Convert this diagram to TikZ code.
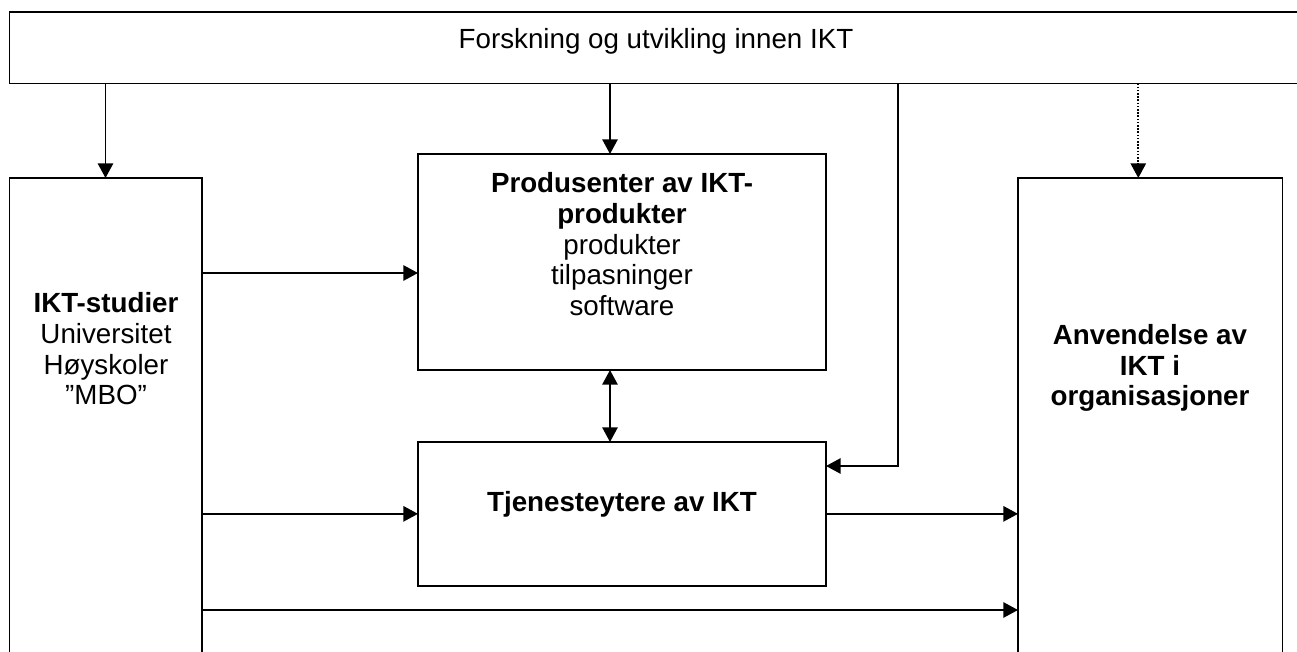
\documentclass[tikz,border=0pt]{standalone}
\usepackage{fontspec}
\setmainfont{Liberation Sans}
\usetikzlibrary{arrows.meta,fit}
\begin{document}
\begin{tikzpicture}[x=0.75pt,y=-0.75pt,
  box/.style={draw,line width=1.4pt,inner sep=0pt,outer sep=0pt},
  txt/.style={font=\fontsize{20.8}{23}\selectfont,align=center,inner sep=0pt},
  arr/.style={line width=1.4pt,-{Triangle[length=11pt,width=11.5pt]}},
  darr/.style={line width=1.4pt,{Triangle[length=11pt,width=11.5pt]}-{Triangle[length=11pt,width=11.5pt]}},
  dotarr/.style={arr,dash pattern=on 1.2pt off 1.2pt}]
\useasboundingbox (0,0) rectangle (1297,652);
\clip (0,0) rectangle (1297,652);
\node[box, fit={(9.5,12.3) (1330,83.5)}] (top) {};
\node[txt, anchor=base] (toptxt) at (656,48.5) {Forskning og utvikling innen IKT};
\node[box, fit={(9.5,178) (202,720)}] (lbox) {};
\node[box, fit={(1018,178) (1282.5,720)}] (rbox) {};
\node[box, fit={(418,154) (826,370)}] (prod) {};
\node[box, fit={(418,442) (826,585.7)}] (tjen) {};
\node[txt, anchor=north] (prodtxt) at (622,172.5) {\textbf{Produsenter av IKT-}\\\textbf{produkter}\\produkter\\tilpasninger\\software};
\node[txt, anchor=base] (tjentxt) at (622,511.7) {\textbf{Tjenesteytere av IKT}};
\node[txt, anchor=north] (ltxt) at (106,292.5) {\textbf{IKT-studier}\\Universitet\\Høyskoler\\”MBO”};
\node[txt, anchor=north] (rtxt) at (1150,324) {\textbf{Anvendelse av}\\\textbf{IKT i}\\\textbf{organisasjoner}};
\coordinate (xl) at (105.5,0);
\coordinate (xa) at (610,0);
\coordinate (xd) at (1138.3,0);
\coordinate (c3) at (898,466);
\coordinate (ya) at (0,273);
\coordinate (yb) at (0,610);
\draw[arr] (top.south -| xl) -- (lbox.north -| xl);
\draw[arr] (top.south -| xa) -- (prod.north -| xa);
\draw[dotarr] (top.south -| xd) -- (rbox.north -| xd);
\draw[arr] (top.south -| c3) -- (c3) -- (c3 -| tjen.east);
\draw[arr] (lbox.east |- ya) -- (prod.west |- ya);
\draw[darr] (prod.south -| xa) -- (tjen.north -| xa);
\draw[arr] (lbox.east |- tjen.west) -- (tjen.west);
\draw[arr] (tjen.east) -- (tjen.east -| rbox.west);
\draw[arr] (lbox.east |- yb) -- (rbox.west |- yb);
\end{tikzpicture}
\end{document}
